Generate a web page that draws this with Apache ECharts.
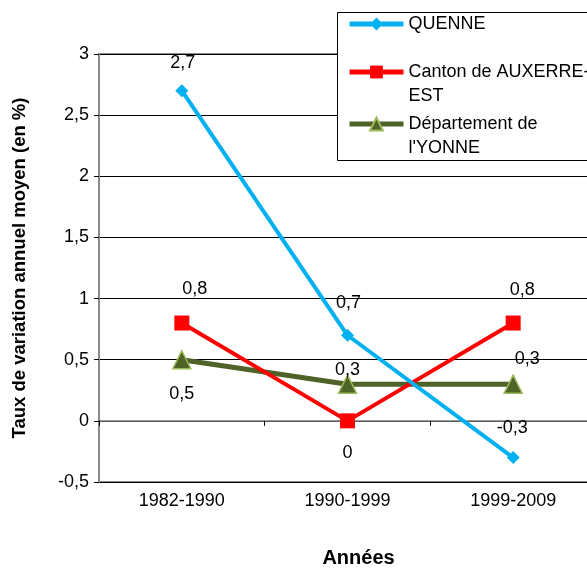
<!DOCTYPE html>
<html>
<head>
<meta charset="utf-8">
<script src="https://cdn.jsdelivr.net/npm/echarts@6/dist/echarts.min.js"></script>
<style>
  html, body { margin: 0; padding: 0; background: #ffffff; }
  #chart { width: 587px; height: 569px; }
</style>
</head>
<body>
<div id="chart"></div>
<script>
// Periods on the category axis
const categories = ['1982-1990', '1990-1999', '1999-2009'];
// Average annual change rate (%)
const quenne = [2.7, 0.7, -0.3];
const canton = [0.8, 0, 0.8];
const yonne = [0.5, 0.3, 0.3];
// Value axis range and step
const yMin = -0.5;
const yMax = 3;
const yStep = 0.5;
// Series names
const names = ['QUENNE', 'Canton de AUXERRE-\nEST', 'Département de\nl\'YONNE'];

const FONT = "'Liberation Sans', Arial, sans-serif";
const FS = 18;
const frNum = v => String(v).replace('.', ',');

// label offsets (px) from each point centre
const offQ = [[1, -28], [1, -32], [-1, -30]];
const offC = [[13, -34], [0, 32], [9, -33]];
const offY = [[0, 34], [0, -14], [14, -25]];

function withLabels(values, offsets) {
  return values.map((v, i) => ({
    value: v,
    label: { offset: offsets[i] }
  }));
}

const labelBase = {
  show: true,
  position: 'inside',
  color: '#000',
  fontFamily: FONT,
  fontSize: FS,
  formatter: p => frNum(p.value)
};

const chart = echarts.init(document.getElementById('chart'), null, { renderer: 'canvas' });

const legendCommon = {
  orient: 'vertical',
  left: 347,
  padding: 0,
  itemWidth: 54,
  itemHeight: 16,
  itemGap: 0,
  z: 5,
  selectedMode: false,
  lineStyle: { width: 5 },
  textStyle: { fontFamily: FONT, fontSize: FS, color: '#000', lineHeight: 24 }
};

// two-line entries: a leading blank line keeps the first text line level with the icon
const firstLineOnIcon = name => '\n' + name;

chart.setOption({
  animation: false,
  backgroundColor: '#ffffff',
  grid: {
    left: 99, top: 54, width: 497, height: 428,
    outerBoundsMode: 'none',
    containLabel: false,
    show: true, borderColor: '#8a8a8a', borderWidth: 2, backgroundColor: 'transparent'
  },
  graphic: [{
    type: 'rect',
    z: 3,
    shape: { x: 337.5, y: 12.5, width: 260, height: 148 },
    style: { fill: '#ffffff', stroke: '#000000', lineWidth: 1 }
  }],
  legend: [
    Object.assign({}, legendCommon, { top: 12, data: [names[0]] }),
    Object.assign({}, legendCommon, { top: 36, data: [names[1]], formatter: firstLineOnIcon }),
    Object.assign({}, legendCommon, { top: 88, data: [names[2]], formatter: firstLineOnIcon })
  ],
  xAxis: [{
    type: 'category',
    data: categories,
    boundaryGap: true,
    axisLine: { onZero: true, lineStyle: { color: '#7a7a7a', width: 1.5 } },
    axisTick: { show: true, length: 5, lineStyle: { color: '#000' } },
    axisLabel: { show: false },
    splitLine: { show: false }
  }, {
    type: 'category',
    data: categories,
    position: 'bottom',
    boundaryGap: true,
    axisLine: { show: false, onZero: false },
    axisTick: { show: false },
    axisLabel: { margin: 10, color: '#000', fontFamily: FONT, fontSize: FS },
    name: 'Années',
    nameLocation: 'middle',
    nameGap: 66,
    nameTextStyle: { fontFamily: FONT, fontSize: 20, fontWeight: 'bold', color: '#000', padding: [0, 0, 0, 22] }
  }],
  yAxis: {
    type: 'value',
    min: yMin, max: yMax, interval: yStep,
    axisLine: { show: true, lineStyle: { color: '#8a8a8a', width: 2 } },
    axisTick: { show: true, length: 5, lineStyle: { color: '#000' } },
    axisLabel: { margin: 10, color: '#000', fontFamily: FONT, fontSize: FS, formatter: v => frNum(v) },
    splitLine: { show: true, lineStyle: { color: '#000', width: 1 } },
    name: 'Taux de variation annuel moyen (en %)',
    nameLocation: 'middle',
    nameGap: 70,
    nameTextStyle: { fontFamily: FONT, fontSize: 18.5, fontWeight: 'bold', color: '#000' }
  },
  series: [{
    name: names[0],
    type: 'line',
    data: withLabels(quenne, offQ),
    symbol: 'diamond',
    symbolSize: 13,
    lineStyle: { color: '#00B0F0', width: 4 },
    itemStyle: { color: '#00B0F0' },
    label: labelBase,
    z: 4
  }, {
    name: names[1],
    type: 'line',
    data: withLabels(canton, offC),
    symbol: 'rect',
    symbolSize: 15,
    lineStyle: { color: '#FF0000', width: 4 },
    itemStyle: { color: '#FF0000' },
    label: labelBase,
    z: 3
  }, {
    name: names[2],
    type: 'line',
    data: withLabels(yonne, offY),
    symbol: 'triangle',
    symbolSize: 18,
    lineStyle: { color: '#4F6228', width: 5 },
    itemStyle: { color: '#4F6228', borderColor: '#9BBB59', borderWidth: 1.5 },
    label: labelBase,
    z: 2
  }]
});
</script>
</body>
</html>
